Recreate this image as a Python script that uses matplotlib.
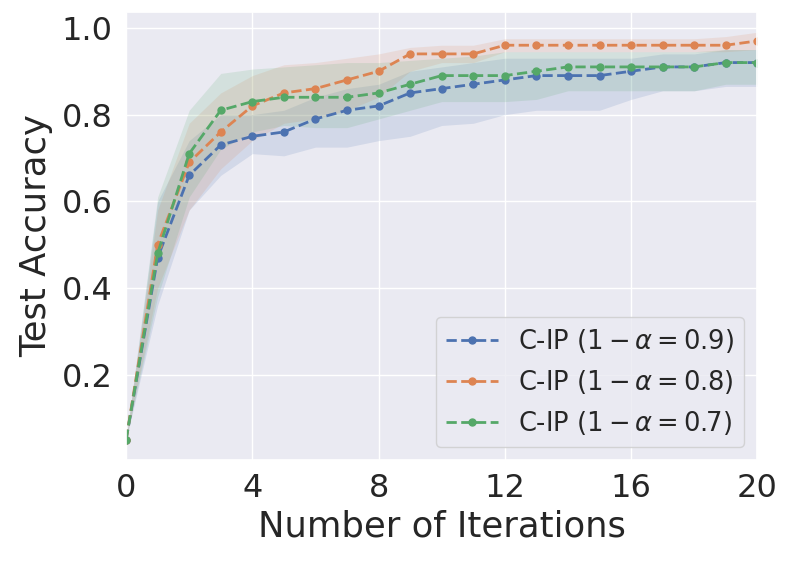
import numpy as np
import matplotlib
matplotlib.use("Agg")
import matplotlib.pyplot as plt
import seaborn as sns

sns.set_theme(style="darkgrid")
plt.rcParams['font.family'] = ['DejaVu Sans']

iters = list(range(21))

acc_09 = [0.05, 0.47, 0.66, 0.73, 0.75, 0.76, 0.79, 0.81, 0.82, 0.85, 0.86,
          0.87, 0.88, 0.89, 0.89, 0.89, 0.90, 0.91, 0.91, 0.92, 0.92]
lo_09 = [0.05, 0.36, 0.58, 0.66, 0.71, 0.705, 0.725, 0.725, 0.74, 0.75, 0.775,
         0.78, 0.80, 0.81, 0.81, 0.81, 0.835, 0.855, 0.855, 0.865, 0.865]
hi_09 = [0.05, 0.60, 0.74, 0.80, 0.80, 0.81, 0.84, 0.86, 0.87, 0.90, 0.91,
         0.92, 0.93, 0.93, 0.93, 0.93, 0.93, 0.94, 0.94, 0.95, 0.95]

acc_08 = [0.05, 0.50, 0.69, 0.76, 0.82, 0.85, 0.86, 0.88, 0.90, 0.94, 0.94,
          0.94, 0.96, 0.96, 0.96, 0.96, 0.96, 0.96, 0.96, 0.96, 0.97]
lo_08 = [0.05, 0.40, 0.58, 0.675, 0.74, 0.78, 0.79, 0.81, 0.84, 0.90, 0.92,
         0.92, 0.945, 0.945, 0.945, 0.945, 0.945, 0.945, 0.945, 0.945, 0.95]
hi_08 = [0.05, 0.58, 0.78, 0.85, 0.89, 0.915, 0.92, 0.93, 0.94, 0.955, 0.96,
         0.96, 0.975, 0.975, 0.975, 0.975, 0.975, 0.975, 0.975, 0.98, 0.99]

acc_07 = [0.05, 0.48, 0.71, 0.81, 0.83, 0.84, 0.84, 0.84, 0.85, 0.87, 0.89,
          0.89, 0.89, 0.90, 0.91, 0.91, 0.91, 0.91, 0.91, 0.92, 0.92]
lo_07 = [0.05, 0.38, 0.61, 0.72, 0.76, 0.775, 0.77, 0.77, 0.79, 0.81, 0.83,
         0.83, 0.83, 0.835, 0.855, 0.855, 0.855, 0.855, 0.855, 0.87, 0.87]
hi_07 = [0.05, 0.61, 0.81, 0.895, 0.905, 0.91, 0.915, 0.92, 0.92, 0.925, 0.93,
         0.935, 0.945, 0.945, 0.945, 0.945, 0.945, 0.945, 0.945, 0.95, 0.95]

labels = [r'C-IP ($1-\alpha=0.9$)', r'C-IP ($1-\alpha=0.8$)', r'C-IP ($1-\alpha=0.7$)']
colors = sns.color_palette("deep")[:3]

fig = plt.figure(figsize=(7.93, 5.64), dpi=100)
ax = fig.add_axes([0.159, 0.184, 0.796, 0.795])

series = [(acc_09, lo_09, hi_09), (acc_08, lo_08, hi_08), (acc_07, lo_07, hi_07)]
for (m, lo, hi), lab, c in zip(series, labels, colors):
    ax.plot(iters, m, '--', marker='o', markersize=5, linewidth=2, color=c, label=lab)
    ax.fill_between(iters, lo, hi, color=c, alpha=0.15, linewidth=0)

ax.set_xlim(0, 20)
ax.set_xticks([0, 4, 8, 12, 16, 20])
ax.set_yticks([0.2, 0.4, 0.6, 0.8, 1.0])
ax.tick_params(labelsize=23)
ax.set_xlabel('Number of Iterations', fontsize=25.5)
ax.set_ylabel('Test Accuracy', fontsize=25.5, labelpad=6)
ax.legend(loc='lower right', fontsize=18.5)

fig.savefig('out.png', dpi=100)
